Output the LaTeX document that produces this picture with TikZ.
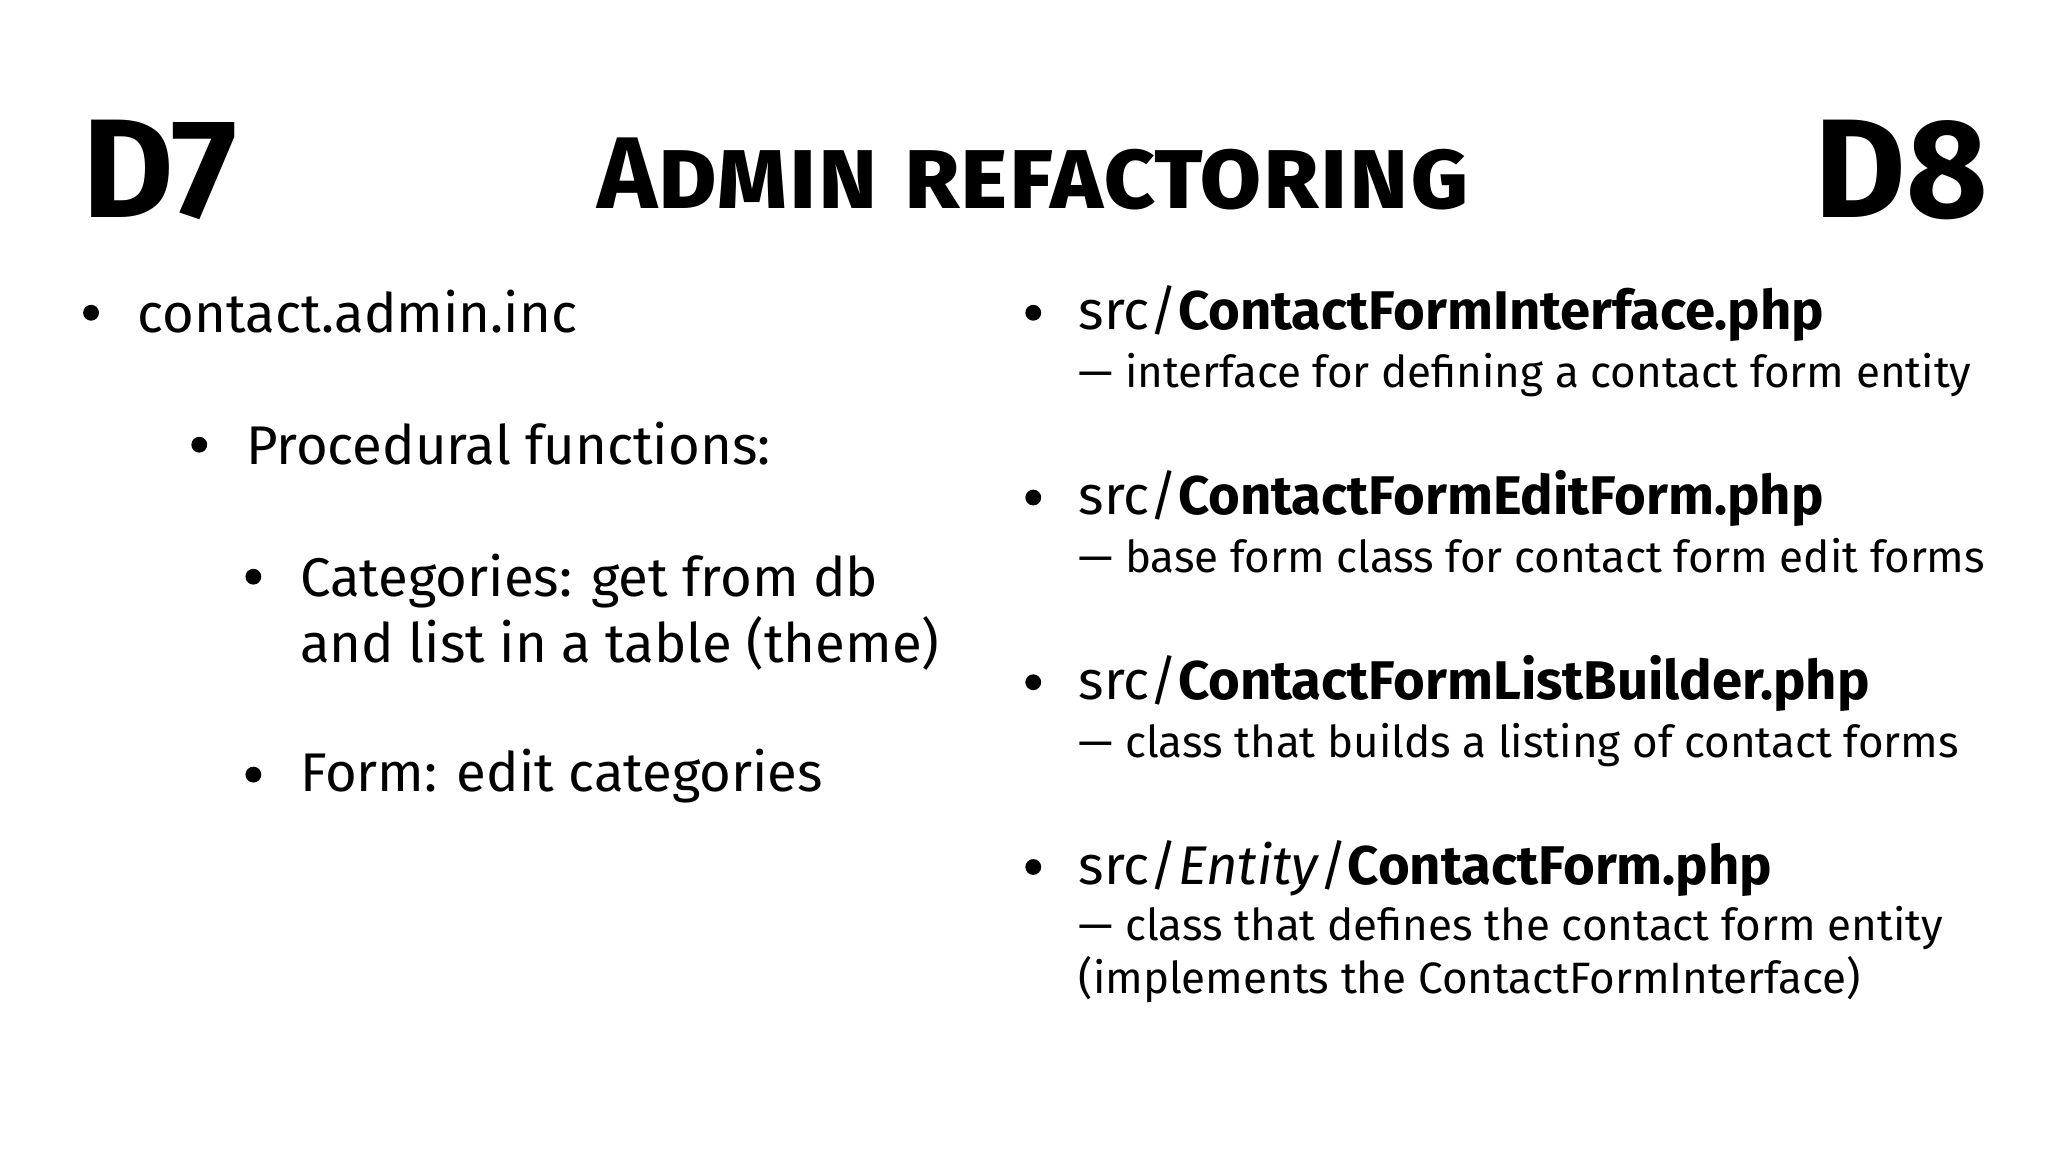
\documentclass[tikz,border=0pt]{standalone}
\usepackage{fontspec}
\setmainfont{Fira Sans}
\newfontfamily\titlefont[Letters=SmallCaps]{Fira Sans Bold}
\newfontfamily\bigfont{Fira Sans Bold}
\begin{document}
\begin{tikzpicture}[x=0.013196cm,y=-0.013196cm,
  body/.style={anchor=base west,inner sep=0pt,font=\fontsize{15.5}{18}\selectfont},
  desc/.style={anchor=base west,inner sep=0pt,font=\fontsize{12.5}{15}\selectfont,align=left},
  dot/.style={circle,fill=black,inner sep=0pt,minimum size=4.5pt}]
\useasboundingbox (0,0) rectangle (1552,873);
\node[anchor=base west,inner sep=0pt,font=\bigfont\fontsize{40}{44}\selectfont] (d7) at (62,165) {D7};
\node[anchor=base east,inner sep=0pt,font=\bigfont\fontsize{40}{44}\selectfont] (d8) at (1507,165) {D8};
\node[anchor=base,inner sep=0pt,font=\titlefont\fontsize{29}{32}\selectfont] (title) at (783,158) {Admin refactoring};
% left
\node[dot] (b1) at (69,237) {};
\node[body] (l1) at (104,252) {contact.admin.inc};
\node[dot] (b2) at (151,337) {};
\node[body] (l2) at (186,352) {Procedural functions:};
\node[dot] (b3) at (192,437) {};
\node[body] (l3) at (227,452) {Categories: get from db};
\node[body] (l3b) at (227,502) {and list in a table (theme)};
\node[dot] (b4) at (192,587) {};
\node[body] (l4) at (227,600) {Form: edit categories};
% right
\node[dot] (r1d) at (783,237) {};
\node[body] (r1) at (817,250) {src/\textbf{ContactFormInterface.php}};
\node[desc] (r1b) at (817,294) {— interface for defining a contact form entity};
\node[dot] (r2d) at (783,377) {};
\node[body] (r2) at (817,390) {src/\textbf{ContactFormEditForm.php}};
\node[desc] (r2b) at (817,434) {— base form class for contact form edit forms};
\node[dot] (r3d) at (783,517) {};
\node[body] (r3) at (817,530) {src/\textbf{ContactFormListBuilder.php}};
\node[desc] (r3b) at (817,574) {— class that builds a listing of contact forms};
\node[dot] (r4d) at (783,657) {};
\node[body] (r4) at (817,670) {src/\textit{Entity}/\textbf{ContactForm.php}};
\node[desc] (r4b) at (817,713) {— class that defines the contact form entity};
\node[desc] (r4c) at (817,753) {(implements the ContactFormInterface)};
\end{tikzpicture}
\end{document}
